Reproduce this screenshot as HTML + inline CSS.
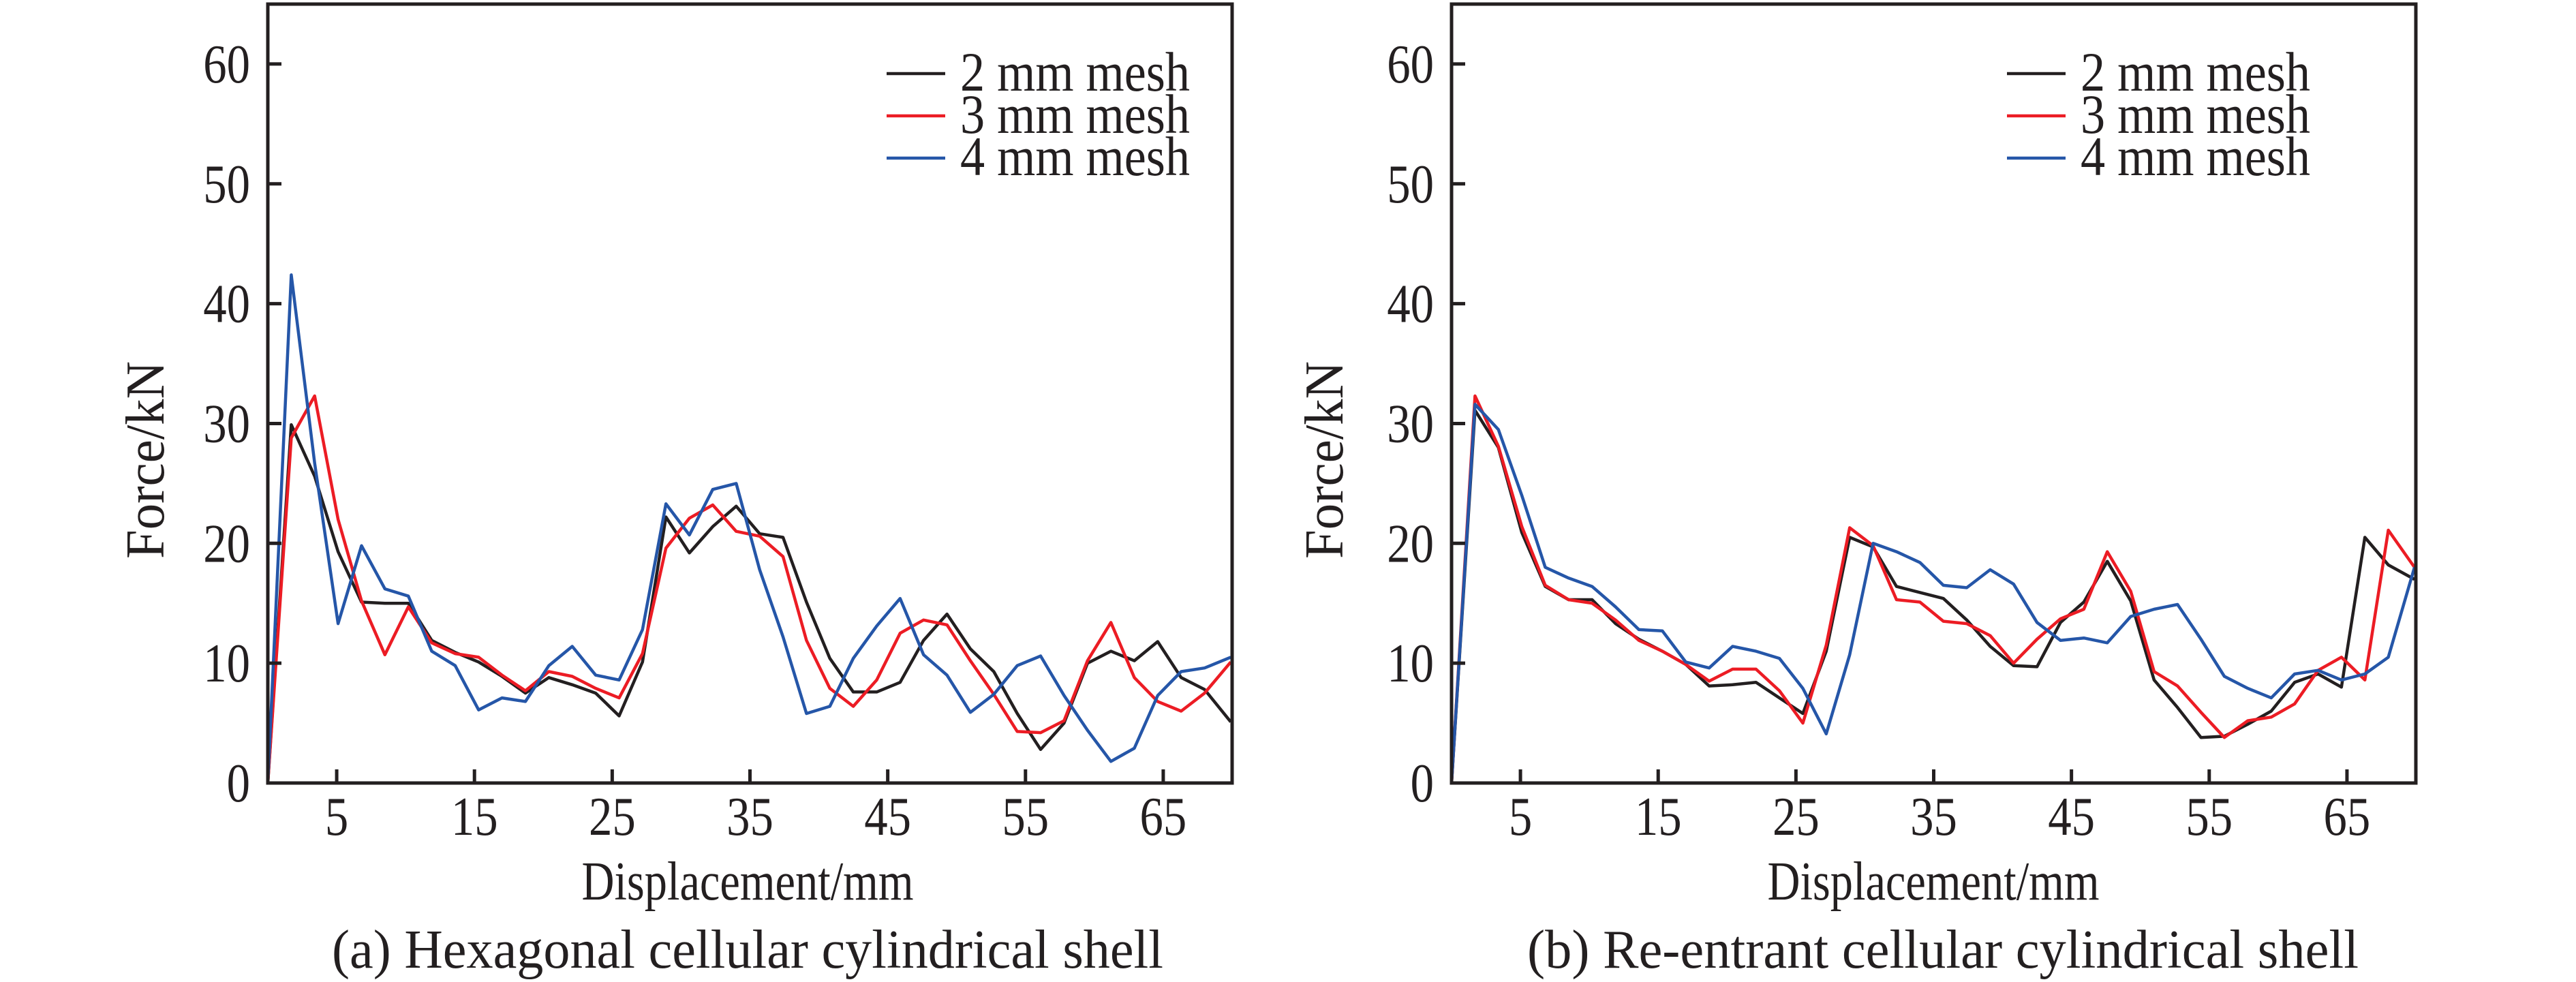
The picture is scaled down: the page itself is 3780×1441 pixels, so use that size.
<!DOCTYPE html>
<html><head><meta charset="utf-8"><style>
html,body{margin:0;padding:0;background:#fff;}
svg{display:block;font-family:"Liberation Serif",serif;}
</style></head><body>
<svg id="fig" width="3780" height="1441" viewBox="0 0 3780 1441" xmlns="http://www.w3.org/2000/svg"></svg>
<script>
const xs = [0,1.7,3.4,5.1,6.8,8.5,10.2,11.9,13.6,15.3,17.0,18.7,20.4,22.1,23.8,25.5,27.2,28.9,30.6,32.3,34.0,35.7,37.4,39.1,40.8,42.5,44.2,45.9,47.6,49.3,51.0,52.7,54.4,56.1,57.8,59.5,61.2,62.9,64.6,66.3,68.0,69.9];
const hex2 = [0,29.9,25.6,19.3,15.1,15.0,15.0,11.9,10.9,10.1,8.9,7.5,8.8,8.2,7.5,5.6,10.1,22.2,19.2,21.4,23.1,20.8,20.5,15.1,10.4,7.6,7.6,8.4,11.9,14.1,11.2,9.3,5.8,2.8,5.0,10.0,11.0,10.2,11.8,8.8,7.8,5.1];
const hex3 = [0,28.8,32.3,22.0,15.2,10.7,14.7,11.7,10.8,10.5,9.0,7.7,9.3,8.9,7.9,7.1,10.8,19.6,22.1,23.2,21.0,20.6,18.9,11.9,7.9,6.4,8.6,12.5,13.6,13.2,10.2,7.4,4.3,4.2,5.2,10.2,13.4,8.8,6.8,6.0,7.5,10.1];
const hex4 = [0,42.4,26.7,13.3,19.8,16.2,15.6,11.0,9.8,6.1,7.1,6.8,9.8,11.4,9.0,8.6,12.8,23.3,20.7,24.5,25.0,17.8,12.2,5.8,6.4,10.4,13.1,15.4,10.7,9.0,5.9,7.4,9.8,10.6,7.3,4.4,1.8,2.9,7.3,9.3,9.6,10.5];
const re2 = [0,31.1,28.0,20.9,16.4,15.3,15.3,13.3,12.0,11.0,9.9,8.1,8.2,8.4,7.1,5.8,11.0,20.5,19.7,16.4,15.9,15.4,13.6,11.4,9.8,9.7,13.4,15.1,18.5,15.2,8.6,6.3,3.8,3.9,4.9,6.0,8.4,9.1,8.0,20.5,18.2,17.0];
const re3 = [0,32.3,28.1,21.4,16.5,15.3,15.0,13.6,11.9,11.0,9.9,8.5,9.5,9.5,7.7,5.0,11.5,21.3,19.8,15.3,15.1,13.5,13.3,12.3,10.0,12.0,13.7,14.5,19.3,16.0,9.3,8.1,5.9,3.8,5.2,5.5,6.6,9.4,10.5,8.6,21.1,18.0];
const re4 = [0,31.6,29.5,24.0,18.0,17.1,16.4,14.7,12.8,12.7,10.1,9.6,11.4,11.0,10.4,7.9,4.1,10.7,20.0,19.3,18.4,16.5,16.3,17.8,16.6,13.4,11.9,12.1,11.7,13.9,14.5,14.9,12.0,8.9,7.9,7.1,9.1,9.4,8.6,9.1,10.5,18.0];
const yTicks = [0,10,20,30,40,50,60];
const xTicks = [5,15,25,35,45,55,65];
const seriesNames = ["2 mm mesh","3 mm mesh","4 mm mesh"];
const colors = ["#231f20","#ec1c24","#2556a8"];

const NS = "http://www.w3.org/2000/svg";
const svg = document.getElementById('fig');
function mk(tag, attrs, parent){const e=document.createElementNS(NS,tag);for(const k in attrs)e.setAttribute(k,attrs[k]);(parent||svg).appendChild(e);return e;}

function panel(id, L, R, T, B, series, xTitleX, yTitleX, caption, captionX, legX){
  const g = mk('g',{});
  
  
  const xMax=70, yMax=65;
  const sx = v => L + v*(R-L)/xMax;
  const sy = v => B - v*(B-T)/yMax;
  series.forEach((s,i)=>{
    const pts = xs.map((x,j)=>sx(x).toFixed(1)+','+sy(s[j]).toFixed(1)).join(' ');
    const pl = mk('polyline',{points:pts,fill:'none',stroke:colors[i],'stroke-width':4.5,'stroke-linejoin':'round'},g);
    
    
  });
  const frame = mk('rect',{x:L,y:T,width:R-L,height:B-T,fill:'none',stroke:'#231f20','stroke-width':5},g);
  
  
  yTicks.forEach(v=>{
    const y=sy(v);
    const t = mk('line',{x1:L,x2:L+20,y1:y,y2:y,stroke:'#231f20','stroke-width':5},g);
    
    
    const tx = mk('text',{x:0,y:0,'font-size':80,'text-anchor':'end',fill:'#231f20',transform:`translate(${L-26},${y+27}) scale(0.86,1)`},g);
    tx.textContent=v;
    
    
  });
  xTicks.forEach(v=>{
    const x=sx(v);
    const t = mk('line',{x1:x,x2:x,y1:B,y2:B-20,stroke:'#231f20','stroke-width':5},g);
    
    
    const tx = mk('text',{x:0,y:0,'font-size':80,'text-anchor':'middle',fill:'#231f20',transform:`translate(${x},${B+76}) scale(0.86,1)`},g);
    tx.textContent=v;
    
    
  });
  const xt = mk('text',{x:xTitleX,y:1320,'font-size':80,'text-anchor':'middle',fill:'#231f20',textLength:487,lengthAdjust:'spacingAndGlyphs'},g);
  xt.textContent='Displacement/mm';
  
  
  const yt = mk('text',{x:0,y:0,'font-size':80,'text-anchor':'middle',fill:'#231f20',transform:`translate(${yTitleX},675) rotate(-90)`,textLength:290,lengthAdjust:'spacingAndGlyphs'},g);
  yt.textContent='Force/kN';
  
  
  const cap = mk('text',{x:captionX,y:1420,'font-size':80,'text-anchor':'middle',fill:'#231f20',textLength:1220,lengthAdjust:'spacingAndGlyphs'},g);
  cap.textContent=caption;
  
  
  const lg = mk('g',{},g);
  
  
  seriesNames.forEach((n,i)=>{
    const y = 108 + i*62;
    const ln = mk('line',{x1:legX,x2:legX+86,y1:y,y2:y,stroke:colors[i],'stroke-width':4.5},lg);
    
    
    const tx = mk('text',{x:legX+108,y:y+25,'font-size':82,fill:'#231f20',textLength:337,lengthAdjust:'spacingAndGlyphs'},lg);
    tx.textContent=n;
    
    
  });
}
panel('hexagonal', 393, 1808, 6, 1149, [hex2,hex3,hex4], 1097, 240, '(a) Hexagonal cellular cylindrical shell', 1097, 1301);
panel('re-entrant', 2130, 3545, 6, 1149, [re2,re3,re4], 2837, 1970, '(b) Re-entrant cellular cylindrical shell', 2851, 2945);
</script>
</body></html>
